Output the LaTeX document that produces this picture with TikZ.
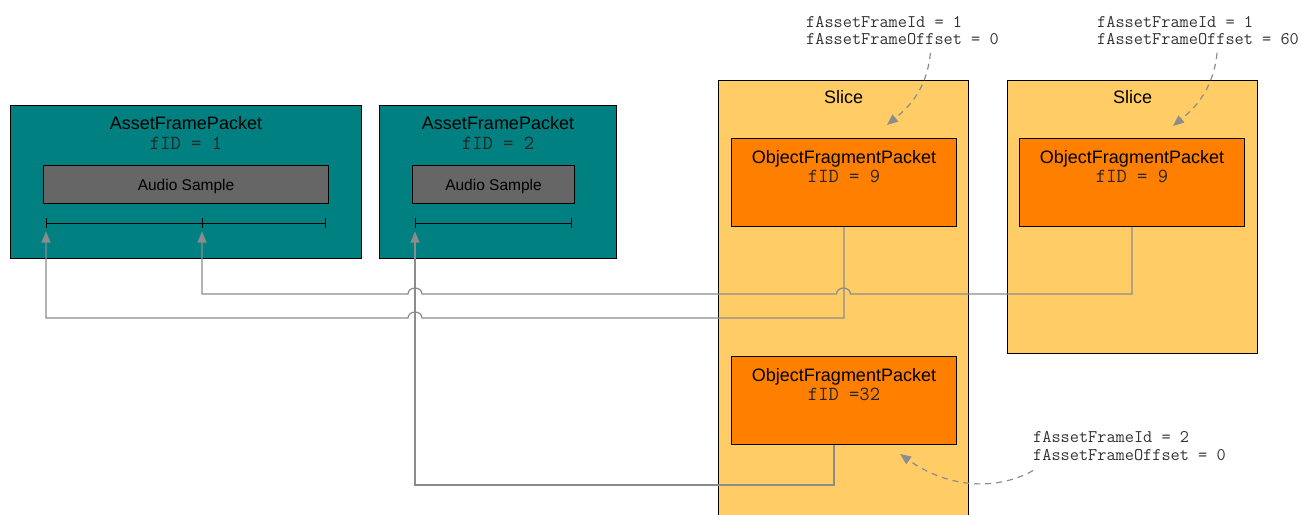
\documentclass[tikz,border=0pt]{standalone}
\usepackage{fontspec}
\setmainfont{Liberation Sans}
\usetikzlibrary{positioning, arrows.meta}

\definecolor{packetteal}{HTML}{008080}
\definecolor{slicefill}{HTML}{FFCC66}
\definecolor{fragorange}{HTML}{FF8000}
\definecolor{samplegray}{HTML}{666666}
\definecolor{linkgray}{HTML}{8C8C8C}
\definecolor{notegray}{HTML}{333333}

\tikzset{x=1pt, y=-1pt,
         >={Triangle[length=11pt, width=9pt]},
         box/.style={draw=black, line width=1pt, anchor=north west, inner sep=0pt},
         packet/.style={box, fill=packetteal, minimum height=153pt},
         sample/.style={box, fill=samplegray, minimum height=38pt, text height=11pt, text depth=0pt,
                        font=\fontsize{15.5}{18}\selectfont},
         slice/.style={box, fill=slicefill, minimum width=250pt},
         fragment/.style={box, fill=fragorange, minimum width=225pt, minimum height=88pt},
         title/.style={inner sep=0pt, text height=13pt, text depth=0pt, font=\fontsize{18}{21}\selectfont},
         fid/.style={inner sep=0pt, text height=11.5pt, text depth=0pt, text=black!85,
                     font=\ttfamily\fontsize{20}{22}\selectfont},
         note/.style={inner sep=0pt, anchor=west, align=left, text=notegray,
                      font=\ttfamily\fontsize{17.8}{17.5}\selectfont},
         link/.style={->, draw=linkgray, line width=1.2pt},
         hint/.style={->, draw=linkgray, line width=1.2pt, dash pattern=on 6pt off 5pt},
         ruler/.style={draw=black, line width=1pt},
         hop/.style={start angle=0, end angle=180, x radius=7pt, y radius=6pt},
        }

\begin{document}
\begin{tikzpicture}
    \useasboundingbox (0,0) rectangle (1305,514);

    % asset frame packets
    \node[packet, minimum width=351pt] (afpA) at (10,105) {};
    \node[packet, minimum width=237pt] (afpB) at (379,105) {};
    \node[title] (afpAtitle) at ([yshift=-18pt]afpA.north) {AssetFramePacket};
    \node[fid] (afpAfid) at ([yshift=-39pt]afpA.north) {fID = 1};
    \node[title] (afpBtitle) at ([yshift=-18pt]afpB.north) {AssetFramePacket};
    \node[fid] (afpBfid) at ([yshift=-39pt]afpB.north) {fID = 2};
    \node[sample, minimum width=285pt] (sampleA) at (43,165) {Audio Sample};
    \node[sample, minimum width=162pt] (sampleB) at (412,165) {Audio Sample};

    % sample offsets
    \coordinate (tickA0) at (46,223);
    \coordinate (tickA1) at (202,223);
    \coordinate (tickA2) at (325,223);
    \coordinate (tickB0) at (415,223);
    \coordinate (tickB1) at (571,223);
    \draw[ruler] (tickA0) -- (tickA2);
    \draw[ruler] (tickB0) -- (tickB1);
    \foreach \t in {tickA0, tickA1, tickA2, tickB0, tickB1}
        \draw[ruler] ([yshift=5pt]\t) -- ([yshift=-5pt]\t);

    % slices
    \node[slice, minimum height=440pt] (sliceA) at (718,80) {};
    \node[slice, minimum height=273pt] (sliceB) at (1007,80) {};
    \node[title] (sliceAtitle) at ([yshift=-17pt]sliceA.north) {Slice};
    \node[title] (sliceBtitle) at ([yshift=-17pt]sliceB.north) {Slice};

    \node[fragment] (ofpA) at (731,138) {};
    \node[fragment] (ofpB) at (731,356) {};
    \node[fragment] (ofpC) at (1019,138) {};
    \foreach \f in {ofpA, ofpB, ofpC}
        \node[title] (\f title) at ([yshift=-18.5pt]\f.north) {ObjectFragmentPacket};
    \node[fid] (ofpAfid) at ([yshift=-39pt]ofpA.north) {fID = 9};
    \node[fid] (ofpBfid) at ([yshift=-39pt]ofpB.north) {fID =32};
    \node[fid] (ofpCfid) at ([yshift=-39pt]ofpC.north) {fID = 9};

    % fragment -> sample links
    \draw[link] (ofpA.south) |- (422,318) arc[hop] -| ([yshift=-8.5pt]tickA0);
    \draw[link] (ofpC.south) |- (850.5,294) arc[hop] -- (422,294) arc[hop] -| ([yshift=-8.5pt]tickA1);
    \draw[link] ([xshift=-10pt]ofpB.south) -- ++(0,40) -| ([yshift=-8.5pt]tickB0);

    % notes
    \node[note] (noteA) at (806,30.3) {fAssetFrameId = 1\\fAssetFrameOffset = 0};
    \node[note] (noteB) at (1097,30.3) {fAssetFrameId = 1\\fAssetFrameOffset = 60};
    \node[note] (noteC) at (1033,446) {fAssetFrameId = 2\\fAssetFrameOffset = 0};
    \coordinate (hintA) at (887,125);
    \coordinate (hintB) at (1173,126);
    \coordinate (hintC) at (900,454);
    \draw[hint] ([xshift=28pt, yshift=-8pt]noteA.south) .. controls +(-4,40) and +(18,-15) .. (hintA);
    \draw[hint] ([xshift=19pt, yshift=-8pt]noteB.south) .. controls +(-4,40) and +(18,-15) .. (hintB);
    \draw[hint] ([yshift=-10pt]noteC.south west) .. controls +(-40,22) and +(45,32) .. (hintC);
\end{tikzpicture}
\end{document}
